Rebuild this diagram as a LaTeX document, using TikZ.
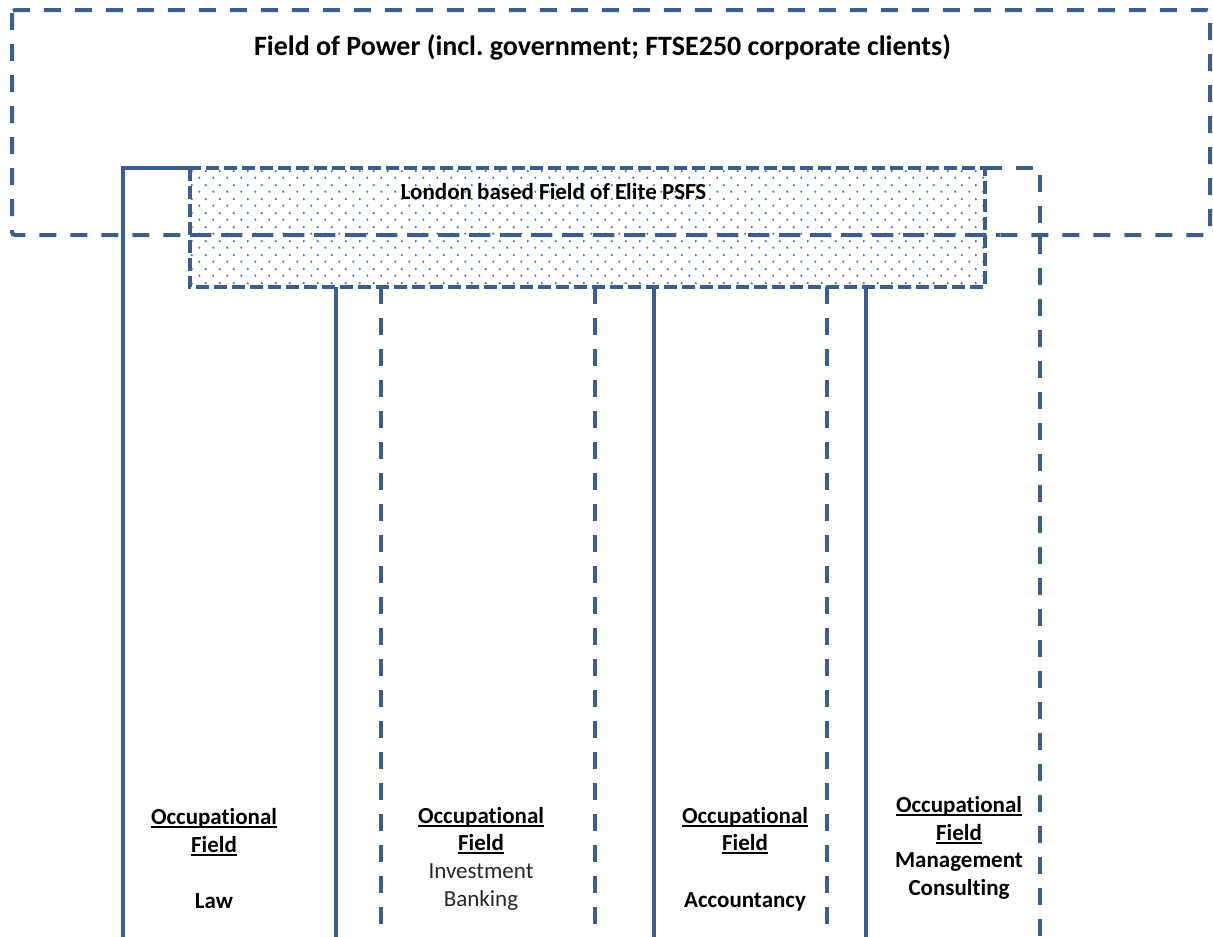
\documentclass[tikz,border=0pt]{standalone}
\usepackage{fontspec}
\setmainfont{Carlito}[Ligatures={NoCommon,NoContextual,NoRare}]
\usetikzlibrary{patterns.meta}
\definecolor{frame}{RGB}{59,94,140}
\definecolor{dotc}{RGB}{70,116,190}
\definecolor{softblack}{RGB}{38,38,38}
\newcommand\myul[1]{\setbox0\hbox{#1}\rlap{\rule[-4pt]{\wd0}{1.9pt}}\box0}
\tikzdeclarepattern{
  name=psfsdots, type=colored,
  bottom left={(0pt,0pt)}, top right={(14pt,14pt)}, tile size={(14pt,14pt)},
  code={\fill[dotc] (3.5pt,3.5pt) circle (1.3pt); \fill[dotc] (10.5pt,10.5pt) circle (1.3pt);}
}
\begin{document}
\frenchspacing
\begin{tikzpicture}[x=1pt,y=-1pt,
  fl/.style={draw=frame,line width=4pt},
  longdash/.style={fl,dash pattern=on 17pt off 14pt},
  shortdash/.style={fl,dash pattern=on 13pt off 5pt},
  lbl/.style={font=\fontsize{23}{27}\selectfont\bfseries,anchor=base,inner sep=0pt},
  lblreg/.style={font=\fontsize{23}{27}\selectfont,text=softblack,anchor=base,inner sep=0pt},
  titlefont/.style={font=\fontsize{28}{34}\selectfont\bfseries,anchor=base,inner sep=0pt}]
\useasboundingbox (0,0) rectangle (1213,937);

% Field of Power
\draw[longdash, rounded corners=3pt] (12,10) rectangle (1210,235);
\node[titlefont] (fop) at (602.5,55) {Field of Power (incl. government; FTSE250 corporate clients)};

% Elite PSFS box
\node[pattern=psfsdots, minimum width=795pt, minimum height=119pt, inner sep=0pt] (psfs) at (587.5,227.5) {};
\draw[shortdash] (psfs.north west) rectangle (psfs.south east);
\draw[longdash] (190,235) -- (1000,235);
\node[lbl] (psfslbl) at (553.5,199) {London based Field of Elite PSFS};

% occupational field bottoms
\coordinate (lawL) at (123,945);
\coordinate (lawR) at (336,945);
\coordinate (ibL) at (381,945);
\coordinate (ibR) at (595,945);
\coordinate (accL) at (654,945);
\coordinate (accR) at (827,945);
\coordinate (mcL) at (866,945);
\coordinate (mcR) at (1040,945);

\draw[fl] (lawL) |- (psfs.north west);
\draw[fl] (psfs.south -| lawR) -- (lawR);
\draw[longdash] (psfs.south -| ibL) -- (ibL);
\draw[longdash] (psfs.south -| ibR) -- (ibR);
\draw[fl] (psfs.south -| accL) -- (accL);
\draw[longdash] (psfs.south -| accR) -- (accR);
\draw[fl] (psfs.south -| mcL) -- (mcL);
\draw[longdash] (psfs.north east) -| (mcR);

% labels
\node[lbl] (law1) at (214,824) {\myul{Occupational}};
\node[lbl] (law2) at (214,852) {\myul{Field}};
\node[lbl] (law3) at (214,908) {Law};

\node[lbl] (ib1) at (481,823) {\myul{Occupational}};
\node[lbl] (ib2) at (481,850) {\myul{Field}};
\node[lblreg] (ib3) at (481,878) {Investment};
\node[lblreg] (ib4) at (481,906) {Banking};

\node[lbl] (acc1) at (745,823) {\myul{Occupational}};
\node[lbl] (acc2) at (745,850) {\myul{Field}};
\node[lbl] (acc3) at (745,907) {Accountancy};

\node[lbl] (mc1) at (959,812) {\myul{Occupational}};
\node[lbl] (mc2) at (959,840) {\myul{Field}};
\node[lbl] (mc3) at (959,867) {Management};
\node[lbl] (mc4) at (959,895) {Consulting};
\end{tikzpicture}
\end{document}
